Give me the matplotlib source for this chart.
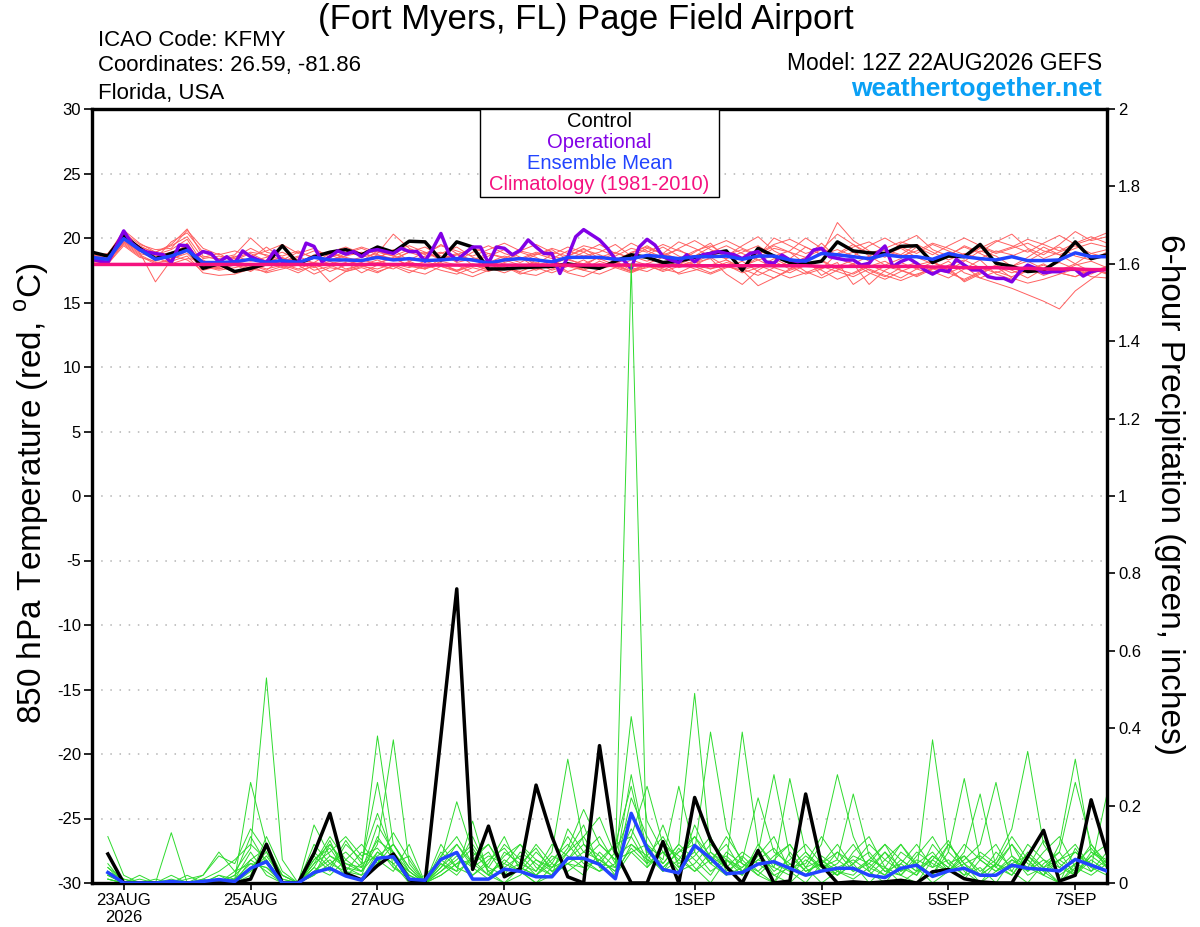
import matplotlib
matplotlib.use('Agg')
import matplotlib.pyplot as plt
import matplotlib.ticker as mticker
from matplotlib.patches import Rectangle
import pandas as pd

plt.rcParams['font.family'] = ['Liberation Sans', 'DejaVu Sans']
plt.rcParams['axes.unicode_minus'] = False
plt.rcParams['mathtext.fontset'] = 'custom'
plt.rcParams['mathtext.rm'] = 'Liberation Sans'

# ---------------- data ----------------
run_start = pd.Timestamp('2026-08-22 12:00')
run_end = pd.Timestamp('2026-09-07 12:00')
temp_times = pd.date_range(run_start, periods=65, freq='6h')
precip_times = pd.date_range(run_start + pd.Timedelta(hours=6), periods=64, freq='6h')
oper_times = pd.date_range(run_start, periods=129, freq='3h')

tick_dates = ['2026-08-23', '2026-08-25', '2026-08-27', '2026-08-29',
              '2026-09-01', '2026-09-03', '2026-09-05', '2026-09-07']
tick_labels = ['23AUG\n2026', '25AUG', '27AUG', '29AUG', '1SEP', '3SEP', '5SEP', '7SEP']

control_temp = [
    18.9, 18.6, 20.2, 19.2, 18.4, 18.8, 19.2, 17.65, 18.0, 17.4, 17.65, 18.0, 19.4,
    18.0, 18.55, 18.9, 19.1, 18.7, 19.3, 18.9, 19.75, 19.7, 18.3, 19.7, 19.3, 17.6,
    17.6, 17.7, 17.75, 17.8, 18.0, 17.8, 17.65, 18.2, 18.7, 18.5, 18.1, 18.2, 18.5,
    18.8, 19.0, 17.5, 19.2, 18.6, 18.1, 18.0, 18.2, 19.7, 19.0, 18.85, 18.8, 19.35,
    19.4, 18.1, 18.6, 18.55, 19.5, 18.05, 17.8, 17.4, 17.5, 18.3, 19.7, 18.4, 18.7]

mean_temp = [
    18.5, 18.35, 19.95, 19.1, 18.35, 18.6, 19.05, 18.1, 18.1, 18.15, 18.35, 18.1, 18.25,
    18.1, 18.5, 18.3, 18.3, 18.25, 18.5, 18.3, 18.4, 18.25, 18.3, 18.4, 18.3, 18.05,
    18.3, 18.4, 18.3, 18.15, 18.5, 18.5, 18.5, 18.35, 18.4, 18.65, 18.55, 18.4, 18.55,
    18.55, 18.6, 18.35, 18.6, 18.6, 18.3, 18.2, 18.8, 18.7, 18.55, 18.4, 18.7, 18.55,
    18.55, 18.35, 18.8, 18.55, 18.4, 18.3, 18.55, 18.25, 18.25, 18.3, 18.85, 18.55, 18.55]

clim_temp = [
    17.95, 17.95, 17.95, 17.95, 17.95, 17.95, 17.95, 17.95, 17.95, 17.95, 17.95, 17.95, 17.95,
    17.95, 17.95, 17.95, 17.95, 17.95, 17.95, 17.95, 17.95, 17.9, 17.9, 17.9, 17.9, 17.9,
    17.9, 17.9, 17.9, 17.9, 17.9, 17.9, 17.9, 17.9, 17.9, 17.9, 17.85, 17.85, 17.85,
    17.85, 17.85, 17.85, 17.85, 17.85, 17.85, 17.85, 17.8, 17.8, 17.8, 17.8, 17.8, 17.8,
    17.8, 17.75, 17.75, 17.7, 17.7, 17.7, 17.65, 17.65, 17.6, 17.6, 17.6, 17.55, 17.55]

oper_temp = [
    18.35, 18.2, 18.1, 19.3, 20.55, 19.6, 19.1, 18.9, 18.8, 18.7, 18.1, 19.45, 19.4,
    18.55, 18.95, 18.8, 18.15, 18.55, 18.05, 19.0, 18.55, 18.3, 18.1, 19.0, 18.15, 18.15,
    18.1, 19.6, 19.35, 18.15, 18.55, 19.0, 18.75, 18.95, 18.55, 19.0, 19.1, 18.95, 18.8,
    19.2, 18.95, 18.95, 18.2, 19.2, 20.35, 18.8, 18.3, 18.8, 19.3, 19.3, 18.05, 19.3,
    19.2, 18.7, 19.05, 19.85, 19.3, 18.8, 18.8, 17.25, 18.55, 20.1, 20.65, 20.25, 19.85,
    19.2, 18.35, 18.3, 17.65, 19.3, 19.9, 19.45, 18.55, 18.3, 18.1, 18.7, 18.15, 18.7,
    18.8, 18.95, 18.8, 18.7, 18.4, 18.8, 18.95, 18.15, 18.04, 18.68, 18.3, 18.17, 18.3,
    19.07, 19.2, 18.55, 18.42, 18.3, 18.3, 17.9, 18.04, 18.8, 19.38, 17.78, 18.17, 18.42,
    18.04, 17.52, 17.2, 17.52, 17.39, 18.35, 17.9, 17.52, 17.52, 17.0, 16.87, 16.87, 16.6,
    17.39, 17.9, 17.65, 17.3, 17.39, 17.39, 17.57, 17.57, 17.05, 17.39, 17.52, 17.57]

temp_members = [
    [18.6, 18.4, 20.3, 19.3, 18.6, 18.9, 19.3, 18.2, 18.0, 18.3, 18.8, 18.2, 18.5,
     18.0, 18.7, 18.3, 18.6, 18.9, 18.4, 19.1, 18.2, 18.6, 18.9, 18.1, 18.4, 17.9,
     18.2, 18.9, 18.5, 17.8, 18.6, 19.2, 18.4, 17.9, 18.8, 19.4, 18.7, 18.2, 18.9,
     19.6, 18.3, 17.7, 18.5, 19.2, 18.9, 18.0, 17.6, 18.8, 19.5, 18.6, 17.9, 18.4,
     19.3, 18.1, 17.5, 18.2, 19.0, 18.6, 17.8, 18.5, 19.3, 18.7, 18.0, 18.8, 19.1],
    [18.3, 18.1, 19.8, 18.9, 16.6, 18.3, 19.0, 17.8, 17.6, 18.0, 17.5, 17.9, 18.2,
     18.6, 18.0, 17.4, 17.9, 18.3, 18.0, 18.5, 17.8, 17.6, 18.4, 18.8, 17.9, 17.5,
     18.0, 17.6, 18.3, 18.1, 17.4, 17.8, 18.6, 18.2, 17.5, 18.0, 18.5, 17.7, 18.1,
     18.4, 17.2, 16.4, 17.5, 18.2, 17.6, 18.4, 17.1, 17.8, 18.3, 17.5, 17.0, 17.7,
     18.1, 17.4, 16.9, 17.6, 18.3, 17.2, 16.8, 17.5, 18.0, 17.3, 17.0, 17.6, 17.2],
    [18.8, 18.7, 20.6, 19.6, 18.9, 19.5, 20.7, 18.6, 18.3, 18.5, 19.2, 18.6, 18.1,
     18.5, 19.0, 18.7, 18.2, 18.5, 18.8, 20.3, 19.2, 18.7, 19.5, 18.8, 18.2, 18.6,
     19.1, 18.5, 18.0, 18.7, 19.3, 18.9, 18.3, 18.8, 19.6, 19.0, 18.5, 19.2, 19.8,
     19.1, 18.6, 19.4, 20.1, 19.0, 18.4, 19.3, 18.7, 21.2, 19.8, 19.0, 18.5, 19.6,
     20.2, 19.1, 18.6, 19.4, 18.9, 19.7, 20.3, 19.2, 18.7, 19.5, 20.5, 19.8, 20.1],
    [18.2, 18.0, 19.6, 18.7, 18.1, 18.2, 18.6, 17.3, 17.1, 17.2, 17.6, 17.4, 17.8,
     17.3, 17.9, 16.6, 17.4, 17.7, 17.3, 17.9, 17.5, 17.2, 17.8, 17.4, 17.0, 17.5,
     17.8, 17.2, 17.6, 17.9, 17.3, 17.0, 17.6, 18.0, 17.4, 17.7, 18.1, 17.2, 17.5,
     17.9, 18.3, 17.6, 17.1, 17.7, 18.2, 17.4, 16.9, 17.5, 18.0, 17.3, 16.8, 17.4,
     17.9, 18.2, 17.5, 16.7, 17.3, 17.8, 16.9, 16.5, 16.8, 17.2, 17.6, 17.0, 16.9],
    [18.5, 18.3, 20.0, 19.0, 18.4, 19.7, 20.4, 18.9, 18.4, 18.7, 20.0, 18.9, 18.6,
     19.0, 18.4, 18.9, 19.3, 18.8, 18.5, 19.0, 19.4, 18.9, 18.3, 18.7, 19.2, 18.8,
     18.4, 19.0, 19.5, 18.9, 18.6, 19.1, 18.7, 18.2, 18.9, 19.3, 18.8, 19.7, 19.2,
     18.6, 19.0, 18.3, 18.8, 19.5, 19.9, 19.3, 18.7, 19.1, 18.6, 19.4, 20.0, 19.3,
     18.8, 19.5, 19.0, 18.5, 19.2, 19.8, 19.4, 18.9, 19.6, 20.2, 19.5, 19.9, 20.4],
    [18.7, 18.5, 19.9, 19.4, 18.8, 18.5, 19.6, 17.8, 17.5, 17.7, 18.0, 17.6, 17.9,
     17.5, 17.8, 18.2, 17.6, 17.9, 18.3, 17.8, 18.1, 17.6, 18.0, 17.5, 17.8, 18.3,
     17.7, 17.4, 17.9, 18.2, 17.8, 17.5, 18.0, 17.7, 18.3, 17.9, 17.4, 17.8, 18.2,
     17.6, 17.9, 17.3, 17.7, 18.4, 17.8, 17.2, 17.6, 18.1, 16.4, 17.2, 17.8, 17.5,
     17.0, 17.6, 18.2, 17.3, 16.9, 16.5, 16.1, 15.6, 15.1, 14.5, 15.9, 16.8, 17.6],
    [18.4, 18.6, 20.1, 19.1, 18.3, 18.7, 19.0, 18.5, 18.8, 18.1, 18.4, 19.3, 18.4,
     18.1, 18.6, 18.9, 18.4, 18.1, 18.7, 18.3, 18.9, 18.5, 18.8, 19.3, 18.5, 18.1,
     18.6, 18.3, 18.8, 18.4, 19.0, 18.6, 18.9, 19.5, 18.6, 18.2, 18.7, 19.1, 18.4,
     18.9, 19.4, 18.8, 18.3, 18.6, 19.0, 20.0, 19.2, 18.5, 18.9, 18.2, 18.7, 19.2,
     18.5, 18.0, 18.7, 19.3, 18.8, 18.2, 18.6, 19.1, 18.4, 18.9, 19.4, 18.8, 18.5],
    [18.9, 18.2, 19.7, 18.8, 18.5, 18.0, 18.4, 18.3, 17.6, 17.9, 17.4, 18.1, 17.7,
     18.2, 17.5, 17.8, 18.1, 17.3, 17.9, 17.6, 18.2, 17.7, 18.1, 17.4, 17.9, 17.6,
     18.1, 18.5, 17.7, 17.3, 17.8, 18.3, 17.6, 17.9, 17.4, 18.0, 17.6, 17.3, 17.9,
     18.5, 17.8, 17.5, 16.3, 16.9, 17.6, 18.0, 17.5, 16.8, 17.3, 17.9, 17.4, 16.9,
     17.6, 18.1, 17.7, 16.6, 17.2, 17.8, 17.3, 17.7, 17.1, 17.5, 18.0, 17.4, 17.8],
    [18.6, 18.8, 20.4, 19.5, 19.1, 19.2, 20.6, 19.2, 18.7, 19.0, 18.6, 19.0, 19.5,
     18.8, 19.2, 18.5, 18.9, 19.3, 18.9, 18.6, 19.1, 18.8, 19.4, 19.0, 18.6, 19.1,
     19.6, 19.0, 18.7, 19.2, 18.8, 19.4, 19.1, 18.6, 19.2, 18.9, 19.5, 19.0, 18.6,
     19.3, 19.8, 19.2, 18.7, 19.4, 18.9, 18.5, 19.1, 20.3, 19.5, 18.8, 19.2, 19.7,
     19.3, 18.7, 19.4, 20.0, 19.4, 18.9, 19.3, 19.9, 19.5, 19.0, 19.6, 20.1, 19.6],
    [18.1, 18.3, 19.5, 18.6, 18.0, 18.4, 18.8, 17.6, 17.9, 17.3, 17.8, 17.3, 17.6,
     17.9, 17.2, 17.7, 17.5, 17.9, 17.4, 17.8, 17.3, 17.9, 17.5, 17.2, 17.7, 17.4,
     17.9, 17.3, 17.1, 17.6, 18.0, 17.5, 17.2, 17.7, 17.3, 17.8, 17.5, 18.1, 17.6,
     17.2, 17.7, 18.2, 17.4, 16.9, 17.5, 17.9, 18.3, 17.6, 17.2, 17.8, 18.2, 17.5,
     17.1, 17.7, 17.3, 16.8, 17.4, 17.9, 17.5, 16.9, 17.6, 18.1, 17.6, 17.2, 17.8],
    [18.5, 18.5, 20.2, 19.2, 18.7, 19.1, 19.9, 18.0, 18.2, 18.6, 18.2, 18.5, 18.9,
     18.3, 18.1, 18.8, 18.5, 18.2, 19.0, 18.6, 18.3, 18.9, 18.4, 18.7, 18.3, 18.8,
     18.5, 18.1, 18.7, 19.1, 18.3, 18.0, 18.5, 18.9, 18.4, 18.7, 19.3, 18.6, 18.1,
     18.7, 18.4, 18.9, 19.4, 18.6, 18.0, 18.5, 19.6, 18.4, 18.0, 18.6, 19.1, 18.7,
     19.5, 18.9, 18.3, 18.8, 18.4, 19.0, 18.7, 18.2, 18.9, 19.3, 18.6, 18.3, 18.9],
    [18.3, 18.0, 19.4, 18.5, 18.2, 18.6, 18.3, 17.5, 17.8, 18.0, 17.7, 18.3, 18.0,
     17.6, 18.1, 17.9, 17.4, 17.8, 17.6, 18.0, 17.7, 18.2, 17.8, 17.5, 18.0, 17.7,
     17.3, 17.8, 18.1, 17.5, 17.9, 17.6, 18.2, 17.8, 17.4, 17.9, 17.7, 18.2, 17.8,
     17.3, 17.8, 17.5, 17.9, 17.4, 16.9, 17.3, 17.8, 17.4, 17.0, 17.6, 17.1, 16.7,
     17.2, 17.6, 17.3, 17.8, 16.9, 17.4, 17.0, 17.5, 17.9, 17.3, 17.0, 17.5, 17.3],
    [18.7, 18.4, 20.0, 19.3, 18.9, 19.4, 20.1, 18.4, 18.6, 18.4, 18.9, 18.7, 18.3,
     18.9, 18.5, 18.2, 18.8, 19.2, 18.7, 18.4, 18.9, 19.3, 18.6, 18.2, 18.9, 19.4,
     18.8, 18.4, 18.9, 18.6, 18.3, 18.9, 19.5, 18.8, 18.5, 19.2, 18.8, 18.4, 19.0,
     19.4, 18.7, 19.1, 18.6, 20.0, 19.4, 18.8, 19.2, 18.7, 19.3, 19.7, 19.0, 18.6,
     19.0, 19.6, 19.2, 18.7, 19.3, 18.8, 19.2, 19.6, 19.0, 18.7, 19.2, 19.6, 19.3],
    [18.4, 18.2, 19.7, 19.0, 18.3, 18.8, 19.4, 17.9, 17.7, 18.2, 17.9, 17.5, 18.4,
     18.2, 17.7, 18.0, 18.3, 17.8, 18.1, 18.4, 17.9, 17.6, 18.2, 17.9, 17.3, 17.8,
     18.3, 17.9, 17.5, 18.0, 18.4, 17.9, 17.6, 18.1, 17.7, 17.4, 18.0, 18.4, 17.9,
     17.6, 18.1, 17.8, 18.3, 17.7, 17.3, 17.9, 18.2, 17.6, 18.0, 16.4, 17.5, 18.1,
     17.6, 17.2, 17.9, 18.3, 17.7, 17.3, 17.8, 18.2, 17.6, 17.3, 17.9, 18.2, 17.7],
]

control_precip = [
    0.075, 0.0, 0.0, 0.0, 0.0, 0.0, 0.0, 0.0, 0.0, 0.01, 0.10, 0.0, 0.0, 0.077, 0.18, 0.025,
    0.008, 0.045, 0.075, 0.008, 0.0, 0.38, 0.76, 0.035, 0.147, 0.016, 0.037, 0.253, 0.12, 0.016, 0.0, 0.355,
    0.081, 0.0, 0.0, 0.107, 0.0, 0.221, 0.112, 0.042, 0.0, 0.084, 0.0, 0.005, 0.23, 0.046, 0.0, 0.003,
    0.0, 0.003, 0.007, 0.0, 0.029, 0.035, 0.011, 0.003, 0.0, 0.0, 0.068, 0.136, 0.005, 0.02, 0.215, 0.077]

mean_precip = [
    0.027, 0.0, 0.0, 0.0, 0.004, 0.0, 0.004, 0.009, 0.004, 0.038, 0.055, 0.0, 0.0, 0.027, 0.038, 0.018,
    0.007, 0.064, 0.068, 0.01, 0.007, 0.061, 0.079, 0.01, 0.01, 0.036, 0.03, 0.016, 0.016, 0.064, 0.064, 0.048,
    0.011, 0.18, 0.09, 0.035, 0.026, 0.097, 0.064, 0.024, 0.027, 0.049, 0.055, 0.038, 0.02, 0.031, 0.038, 0.038,
    0.02, 0.014, 0.038, 0.046, 0.017, 0.031, 0.038, 0.02, 0.02, 0.046, 0.038, 0.035, 0.031, 0.061, 0.046, 0.031]

precip_members = [
    [0.02, 0.00, 0.00, 0.00, 0.01, 0.00, 0.00, 0.02, 0.01, 0.04, 0.08, 0.00, 0.00, 0.03, 0.06, 0.02,
     0.01, 0.08, 0.05, 0.00, 0.02, 0.06, 0.03, 0.16, 0.02, 0.00, 0.04, 0.02, 0.06, 0.10, 0.05, 0.03,
     0.05, 1.60, 0.04, 0.08, 0.03, 0.15, 0.06, 0.02, 0.07, 0.03, 0.00, 0.05, 0.02, 0.06, 0.03, 0.01,
     0.04, 0.08, 0.02, 0.00, 0.06, 0.03, 0.08, 0.23, 0.04, 0.02, 0.07, 0.03, 0.00, 0.05, 0.09, 0.04],
    [0.04, 0.01, 0.00, 0.00, 0.00, 0.00, 0.01, 0.00, 0.03, 0.09, 0.53, 0.06, 0.00, 0.02, 0.10, 0.04,
     0.02, 0.05, 0.10, 0.03, 0.00, 0.04, 0.08, 0.02, 0.05, 0.12, 0.03, 0.00, 0.02, 0.08, 0.15, 0.04,
     0.02, 0.10, 0.07, 0.03, 0.09, 0.04, 0.00, 0.06, 0.03, 0.08, 0.02, 0.00, 0.04, 0.10, 0.28, 0.12,
     0.03, 0.00, 0.05, 0.02, 0.07, 0.04, 0.01, 0.06, 0.10, 0.03, 0.00, 0.05, 0.08, 0.02, 0.06, 0.03],
    [0.01, 0.00, 0.02, 0.00, 0.00, 0.02, 0.00, 0.00, 0.01, 0.26, 0.10, 0.02, 0.00, 0.05, 0.12, 0.06,
     0.03, 0.15, 0.08, 0.02, 0.00, 0.03, 0.06, 0.10, 0.04, 0.02, 0.08, 0.05, 0.02, 0.14, 0.08, 0.06,
     0.03, 0.22, 0.12, 0.05, 0.10, 0.49, 0.08, 0.04, 0.02, 0.07, 0.12, 0.03, 0.00, 0.05, 0.02, 0.08,
     0.12, 0.04, 0.00, 0.03, 0.06, 0.11, 0.03, 0.00, 0.05, 0.02, 0.08, 0.04, 0.00, 0.09, 0.03, 0.06],
    [0.03, 0.00, 0.00, 0.01, 0.00, 0.00, 0.00, 0.01, 0.00, 0.06, 0.03, 0.00, 0.00, 0.08, 0.04, 0.11,
     0.05, 0.26, 0.04, 0.01, 0.00, 0.07, 0.12, 0.05, 0.02, 0.06, 0.03, 0.00, 0.04, 0.09, 0.19, 0.10,
     0.06, 0.43, 0.16, 0.08, 0.04, 0.10, 0.05, 0.12, 0.06, 0.02, 0.00, 0.08, 0.03, 0.05, 0.10, 0.04,
     0.02, 0.06, 0.10, 0.04, 0.00, 0.03, 0.07, 0.02, 0.05, 0.12, 0.06, 0.02, 0.00, 0.04, 0.10, 0.05],
    [0.02, 0.00, 0.00, 0.00, 0.13, 0.00, 0.00, 0.00, 0.02, 0.12, 0.05, 0.00, 0.00, 0.04, 0.02, 0.06,
     0.10, 0.05, 0.13, 0.06, 0.00, 0.02, 0.05, 0.09, 0.03, 0.00, 0.02, 0.06, 0.04, 0.08, 0.12, 0.05,
     0.10, 0.25, 0.07, 0.12, 0.05, 0.08, 0.39, 0.14, 0.05, 0.02, 0.06, 0.10, 0.04, 0.00, 0.03, 0.07,
     0.05, 0.02, 0.08, 0.05, 0.02, 0.10, 0.05, 0.00, 0.03, 0.06, 0.04, 0.11, 0.05, 0.02, 0.07, 0.04],
    [0.12, 0.02, 0.00, 0.00, 0.00, 0.00, 0.00, 0.00, 0.00, 0.03, 0.07, 0.01, 0.00, 0.06, 0.09, 0.03,
     0.02, 0.12, 0.06, 0.03, 0.00, 0.10, 0.04, 0.02, 0.06, 0.09, 0.04, 0.02, 0.07, 0.05, 0.02, 0.08,
     0.04, 0.12, 0.25, 0.10, 0.06, 0.03, 0.08, 0.05, 0.39, 0.10, 0.04, 0.02, 0.06, 0.03, 0.08, 0.05,
     0.00, 0.04, 0.02, 0.07, 0.12, 0.05, 0.02, 0.04, 0.00, 0.06, 0.03, 0.08, 0.12, 0.04, 0.02, 0.05],
    [0.01, 0.00, 0.00, 0.00, 0.00, 0.01, 0.02, 0.07, 0.05, 0.14, 0.08, 0.02, 0.00, 0.10, 0.05, 0.08,
     0.04, 0.38, 0.10, 0.04, 0.00, 0.05, 0.02, 0.07, 0.10, 0.03, 0.05, 0.09, 0.03, 0.06, 0.10, 0.07,
     0.02, 0.08, 0.10, 0.06, 0.25, 0.08, 0.03, 0.06, 0.02, 0.10, 0.05, 0.03, 0.07, 0.04, 0.02, 0.05,
     0.08, 0.03, 0.05, 0.10, 0.04, 0.06, 0.02, 0.08, 0.05, 0.03, 0.10, 0.06, 0.02, 0.05, 0.03, 0.08],
    [0.05, 0.00, 0.00, 0.00, 0.00, 0.00, 0.02, 0.08, 0.03, 0.05, 0.04, 0.00, 0.00, 0.03, 0.07, 0.05,
     0.03, 0.10, 0.37, 0.05, 0.00, 0.08, 0.04, 0.12, 0.03, 0.05, 0.10, 0.04, 0.02, 0.05, 0.08, 0.12,
     0.05, 0.14, 0.06, 0.04, 0.08, 0.12, 0.05, 0.02, 0.04, 0.08, 0.03, 0.06, 0.10, 0.05, 0.03, 0.02,
     0.06, 0.10, 0.03, 0.05, 0.02, 0.08, 0.27, 0.06, 0.03, 0.07, 0.02, 0.04, 0.06, 0.10, 0.04, 0.02],
    [0.02, 0.00, 0.01, 0.00, 0.00, 0.00, 0.00, 0.00, 0.01, 0.08, 0.02, 0.00, 0.00, 0.07, 0.03, 0.10,
     0.06, 0.18, 0.07, 0.02, 0.00, 0.04, 0.10, 0.05, 0.08, 0.02, 0.04, 0.10, 0.05, 0.12, 0.06, 0.03,
     0.08, 0.18, 0.10, 0.03, 0.06, 0.12, 0.07, 0.04, 0.08, 0.05, 0.02, 0.04, 0.08, 0.03, 0.05, 0.10,
     0.04, 0.02, 0.06, 0.03, 0.37, 0.08, 0.04, 0.02, 0.05, 0.10, 0.03, 0.06, 0.04, 0.08, 0.05, 0.03],
    [0.03, 0.01, 0.00, 0.00, 0.02, 0.00, 0.00, 0.00, 0.00, 0.02, 0.12, 0.03, 0.00, 0.02, 0.05, 0.03,
     0.08, 0.06, 0.03, 0.10, 0.00, 0.03, 0.07, 0.04, 0.01, 0.08, 0.05, 0.03, 0.10, 0.07, 0.04, 0.06,
     0.03, 0.09, 0.05, 0.15, 0.04, 0.07, 0.12, 0.03, 0.06, 0.22, 0.08, 0.05, 0.02, 0.07, 0.04, 0.06,
     0.03, 0.08, 0.04, 0.02, 0.10, 0.05, 0.07, 0.03, 0.06, 0.14, 0.34, 0.10, 0.04, 0.02, 0.08, 0.05],
    [0.04, 0.00, 0.00, 0.00, 0.00, 0.00, 0.01, 0.03, 0.06, 0.10, 0.06, 0.00, 0.00, 0.05, 0.08, 0.12,
     0.07, 0.09, 0.04, 0.02, 0.00, 0.06, 0.21, 0.08, 0.04, 0.10, 0.06, 0.02, 0.05, 0.03, 0.06, 0.10,
     0.06, 0.08, 0.04, 0.10, 0.07, 0.03, 0.06, 0.10, 0.03, 0.06, 0.09, 0.04, 0.05, 0.12, 0.06, 0.23,
     0.07, 0.03, 0.02, 0.06, 0.04, 0.10, 0.05, 0.02, 0.08, 0.04, 0.06, 0.02, 0.10, 0.32, 0.08, 0.06],
    [0.02, 0.00, 0.00, 0.00, 0.00, 0.00, 0.00, 0.00, 0.02, 0.06, 0.09, 0.02, 0.00, 0.04, 0.11, 0.02,
     0.05, 0.07, 0.10, 0.04, 0.00, 0.02, 0.05, 0.06, 0.10, 0.04, 0.07, 0.03, 0.08, 0.32, 0.10, 0.05,
     0.04, 0.28, 0.08, 0.05, 0.10, 0.06, 0.02, 0.08, 0.05, 0.03, 0.07, 0.10, 0.04, 0.06, 0.02, 0.05,
     0.10, 0.06, 0.03, 0.08, 0.05, 0.03, 0.06, 0.10, 0.26, 0.07, 0.04, 0.02, 0.06, 0.03, 0.07, 0.10],
    [0.01, 0.00, 0.00, 0.00, 0.00, 0.00, 0.00, 0.02, 0.00, 0.04, 0.06, 0.00, 0.00, 0.15, 0.07, 0.04,
     0.03, 0.08, 0.05, 0.07, 0.00, 0.05, 0.03, 0.06, 0.02, 0.07, 0.10, 0.06, 0.03, 0.05, 0.04, 0.06,
     0.10, 0.12, 0.05, 0.08, 0.03, 0.05, 0.10, 0.06, 0.04, 0.08, 0.28, 0.07, 0.03, 0.05, 0.08, 0.03,
     0.05, 0.10, 0.06, 0.03, 0.07, 0.04, 0.10, 0.06, 0.03, 0.05, 0.07, 0.04, 0.08, 0.26, 0.10, 0.04],
    [0.03, 0.00, 0.00, 0.00, 0.00, 0.00, 0.00, 0.00, 0.01, 0.05, 0.04, 0.01, 0.00, 0.06, 0.10, 0.05,
     0.04, 0.11, 0.08, 0.03, 0.00, 0.06, 0.10, 0.04, 0.07, 0.05, 0.03, 0.08, 0.04, 0.06, 0.12, 0.17,
     0.07, 0.10, 0.06, 0.04, 0.08, 0.10, 0.05, 0.07, 0.03, 0.06, 0.04, 0.27, 0.08, 0.04, 0.06, 0.03,
     0.06, 0.04, 0.10, 0.05, 0.08, 0.03, 0.05, 0.07, 0.04, 0.10, 0.05, 0.03, 0.06, 0.08, 0.04, 0.23],
]

legend_entries = ['Control', 'Operational', 'Ensemble Mean', 'Climatology (1981-2010)']

# ---------------- styles ----------------
C_RED = '#ff6060'
C_GREEN = '#2edb2e'
C_BLACK = '#000000'
C_PURPLE = '#8200e6'
C_BLUE = '#2244ff'
C_PINK = '#f5127f'
legend_colors = [C_BLACK, C_PURPLE, C_BLUE, C_PINK]

W, H = 1200, 927
fig = plt.figure(figsize=(W / 100, H / 100), dpi=100)
ax = fig.add_axes([92 / W, 44 / H, 1015 / W, 774 / H])
ax2 = ax.twinx()

# temperature members
for m in temp_members:
    ax.plot(temp_times[:len(m)], m, color=C_RED, lw=0.7, zorder=2)
ax.plot(temp_times, control_temp, color=C_BLACK, lw=2.5, zorder=4)
ax.plot(oper_times, oper_temp, color=C_PURPLE, lw=2.5, zorder=5)
ax.plot(temp_times, mean_temp, color=C_BLUE, lw=2.5, zorder=6)
ax.plot(temp_times, clim_temp, color=C_PINK, lw=2.5, zorder=7)

# precipitation
for m in precip_members:
    ax2.plot(precip_times[:len(m)], m, color=C_GREEN, lw=0.7, zorder=2)
ax2.plot(precip_times, control_precip, color=C_BLACK, lw=2.5, zorder=4)
ax2.plot(precip_times, mean_precip, color=C_BLUE, lw=2.5, zorder=5)

ax.set_xlim(run_start, run_end)
ax.set_ylim(-30, 30)
ax2.set_ylim(0, 2)
ax.set_yticks(range(-30, 31, 5))
ax2.set_yticks([0, 0.2, 0.4, 0.6, 0.8, 1.0, 1.2, 1.4, 1.6, 1.8, 2.0])
ax2.yaxis.set_major_formatter(mticker.FuncFormatter(lambda v, p: '%g' % round(v, 1)))
ax.set_xticks(pd.to_datetime(tick_dates))
ax.set_xticklabels(tick_labels)

for y in range(-25, 30, 5):
    ax.axhline(y, color='#b4b4b4', lw=1.1, ls=(0, (1, 5)), zorder=1)

for a in (ax, ax2):
    for s in a.spines.values():
        s.set_linewidth(2.3)
ax.tick_params(axis='y', direction='out', length=6, width=1.2, labelsize=12, pad=2)
ax.tick_params(axis='x', direction='out', length=5, width=1.2, labelsize=12, pad=2)
ax2.tick_params(axis='y', direction='out', length=6, width=1.2, labelsize=12, pad=2)

# legend box
ax2.add_patch(Rectangle((0.382, 0.886), 0.236, 0.114, transform=ax2.transAxes,
                        facecolor='white', edgecolor='black', lw=1.0, zorder=20))
legend_y = [0.984, 0.957, 0.930, 0.902]
for txt, col, yy in zip(legend_entries, legend_colors, legend_y):
    ax2.text(0.5, yy, txt, color=col, fontsize=14.5, ha='center', va='center',
             transform=ax2.transAxes, zorder=21)

# titles and annotations
fig.text(586 / W, 1 - 19 / H, '(Fort Myers, FL) Page Field Airport', fontsize=25,
         ha='center', va='center')
fig.text(98 / W, 1 - 41 / H, 'ICAO Code: KFMY', fontsize=16, ha='left', va='center')
fig.text(98 / W, 1 - 66 / H, 'Coordinates: 26.59, -81.86', fontsize=16, ha='left', va='center')
fig.text(98 / W, 1 - 93 / H, 'Florida, USA', fontsize=16, ha='left', va='center')
fig.text(1102 / W, 1 - 63 / H, 'Model: 12Z 22AUG2026 GEFS', fontsize=16.5, ha='right', va='center')
fig.text(1102 / W, 1 - 89 / H, 'weathertogether.net', fontsize=19, fontweight='bold',
         color='#0aa0f5', ha='right', va='center')
fig.text(32 / W, 1 - 493 / H, r'850 hPa Temperature (red, $^{\mathrm{o}}$C)', fontsize=24,
         rotation=90, ha='center', va='center')
fig.text(1170 / W, 1 - 495 / H, '6-hour Precipitation (green, inches)', fontsize=24,
         rotation=270, ha='center', va='center')

fig.savefig('out.png', dpi=100)
